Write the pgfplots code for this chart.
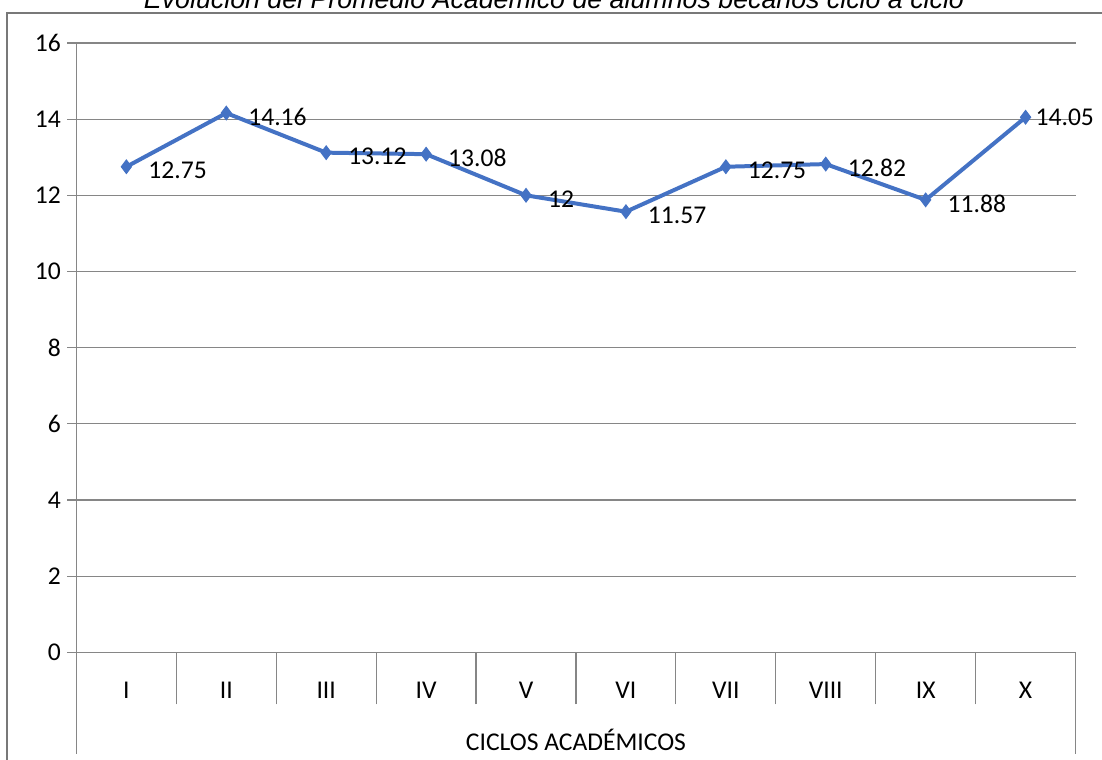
\documentclass[border=0pt]{standalone}
\usepackage{pgfplots}
\pgfplotsset{compat=1.18}
\usepackage{fontspec}
\setmainfont{Carlito}
\newfontfamily\titlefont{Liberation Sans}
\usetikzlibrary{calc}
\definecolor{gridgray}{RGB}{134,134,134}
\definecolor{framegray}{RGB}{120,120,120}
\definecolor{serie}{RGB}{68,114,196}
\pgfkeys{/pgf/number format/assume math mode=true}
\begin{document}
\begin{tikzpicture}[font=\fontsize{12.8}{15}\selectfont]
\begin{axis}[
    scale only axis,
    width=500pt, height=305pt,
    xmin=0.5, xmax=10.5,
    ymin=0, ymax=16,
    clip=false,
    axis x line*=bottom,
    axis y line*=left,
    axis line style={draw=gridgray, line width=0.6pt},
    xtick={0.5,1.5,...,10.5},
    x tick label as interval,
    xticklabels={I,II,III,IV,V,VI,VII,VIII,IX,X},
    xticklabel style={yshift=-7pt},
    ytick={0,2,...,16},
    tick align=outside,
    tick style={draw=gridgray, line width=0.6pt},
    xtick style={/pgfplots/major tick length=26pt},
    ytick style={/pgfplots/major tick length=4.5pt},
    ymajorgrids,
    grid style={draw=gridgray, line width=0.6pt},
    xlabel={CICLOS ACADÉMICOS},
    xlabel style={at={(axis description cs:0.5,0)}, anchor=center, yshift=-44pt},
]
% serie principal
\addplot[color=serie, line width=2pt, mark=diamond*, mark size=3.4pt,
    mark options={fill=serie, line width=0.5pt}]
    coordinates {(1,12.75) (2,14.16) (3,13.12) (4,13.08) (5,12)
                 (6,11.57) (7,12.75) (8,12.82) (9,11.88) (10,14.05)};
% etiquetas de datos
\addplot[draw=none, nodes near coords, nodes near coords align={horizontal},
    every node near coord/.append style={anchor=west, xshift=7.5pt, yshift=-2pt, text=black}]
    coordinates {(1,12.75) (2,14.16) (3,13.12) (4,13.08) (5,12)
                 (6,11.57) (7,12.75) (8,12.82) (9,11.88)};
\addplot[draw=none, nodes near coords, nodes near coords align={horizontal},
    every node near coord/.append style={anchor=west, xshift=1.5pt, yshift=0pt, text=black}]
    coordinates {(10,14.05)};
% lineas exteriores de la tabla de categorias
\draw[gridgray, line width=0.6pt] (rel axis cs:0,0) -- ++(0pt,-51pt);
\draw[gridgray, line width=0.6pt] (rel axis cs:1,0) -- ++(0pt,-51pt);
\node[font=\titlefont\itshape\fontsize{13.4}{15}\selectfont, anchor=base]
    at ($(rel axis cs:0.5,1)+(-11pt,17pt)$) {Evolución del Promedio Académico de alumnos becarios ciclo a ciclo};
\end{axis}
% marco del grafico
\draw[framegray, line width=1pt]
    ([shift={(-34.5pt,-70pt)}]current axis.south west) --
    ([shift={(-34.5pt,15pt)}]current axis.north west) --
    ([shift={(40pt,15pt)}]current axis.north east);
\pgfresetboundingbox
\useasboundingbox ($(current axis.south west)+(-38.25pt,-53.5pt)$) rectangle
    ($(current axis.north east)+(13.25pt,21.5pt)$);
\end{tikzpicture}
\end{document}
